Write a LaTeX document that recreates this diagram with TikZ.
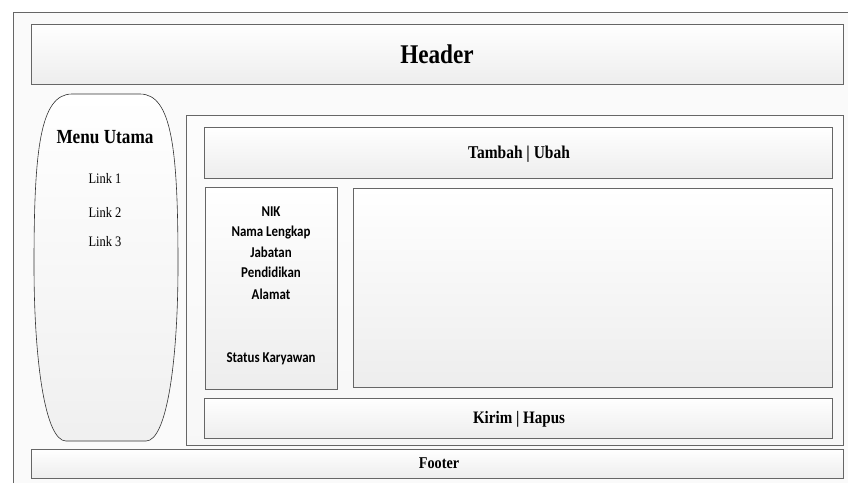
\documentclass[tikz,border=0pt]{standalone}
\usepackage{fontspec}
\setmainfont{Liberation Serif}[FakeStretch=0.86]
\newfontfamily\fieldfont{Carlito}[FakeStretch=0.86]
\usepackage{tikz}
\usetikzlibrary{calc, positioning, shadows}

\tikzset{
  panel/.style={draw=black!60, line width=0.8pt, top color=white, bottom color=black!7,
    drop shadow={shadow xshift=1.2pt, shadow yshift=-1.2pt, fill=black!40, opacity=0.6},
    inner sep=0pt},
  field/.style={anchor=base, font=\fieldfont\bfseries\fontsize{15}{17}\selectfont},
  link/.style={anchor=base, font=\fontsize{14.5}{16}\selectfont},
  title/.style={anchor=base, font=\bfseries\fontsize{#1}{#1}\selectfont},
}

\begin{document}
\begin{tikzpicture}[x=1pt, y=-1pt]
         \useasboundingbox (0,0) rectangle (848,483);
         % outer page
         \fill[black!2] (13,12) rectangle (848,483);
         \draw[black!60, line width=0.8pt] (13,483) -- (13,12) -- (848,12);
         % header
         \node[panel, minimum width=812pt, minimum height=60pt] (header) at (437,54) {};
         \node[title=27] (headertxt) at (437,63) {Header};
         % menu
         \draw[black!80, line width=0.6pt, top color=white, bottom color=black!6]
            (72,94) -- (140,94) .. controls (172,94) and (178,150) .. (178,265)
            .. controls (178,360) and (167,441) .. (146,441) -- (66,441)
            .. controls (45,441) and (34,360) .. (34,265)
            .. controls (34,150) and (40,94) .. (72,94) -- cycle;
         \node[title=20] (menu) at (105,143) {Menu Utama};
         \node[link] (link1) at (105,183) {Link 1};
         \node[link] (link2) at (105,217.5) {Link 2};
         \node[link] (link3) at (105,246.5) {Link 3};
         % content
         \node[panel, top color=black!1, bottom color=black!3, minimum width=657pt, minimum height=330pt] (content) at (514.5,280) {};
         \node[panel, minimum width=628pt, minimum height=51pt] (tambah) at (518,152.5) {};
         \node[title=18] (tambahtxt) at (519,158) {Tambah | Ubah};
         \node[panel, minimum width=132pt, minimum height=202pt] (fields) at (271,288) {};
         \node[field] (nik) at (271,216) {NIK};
         \node[field] (nama) at (271,236.5) {Nama Lengkap};
         \node[field] (jabatan) at (271,257) {Jabatan};
         \node[field] (pendidikan) at (271,277.5) {Pendidikan};
         \node[field] (alamat) at (271,299) {Alamat};
         \node[field] (status) at (271,362.5) {Status Karyawan};
         \node[panel, minimum width=479pt, minimum height=199pt] (isi) at (592.5,287.5) {};
         \node[panel, minimum width=628pt, minimum height=40pt] (kirim) at (518,418) {};
         \node[title=17.5] (kirimtxt) at (519,423.5) {Kirim | Hapus};
         % footer
         \node[panel, minimum width=812pt, minimum height=29pt] (footer) at (437,463.5) {};
         \node[title=16.5] (footertxt) at (439,468.5) {Footer};
      \end{tikzpicture}
\end{document}
